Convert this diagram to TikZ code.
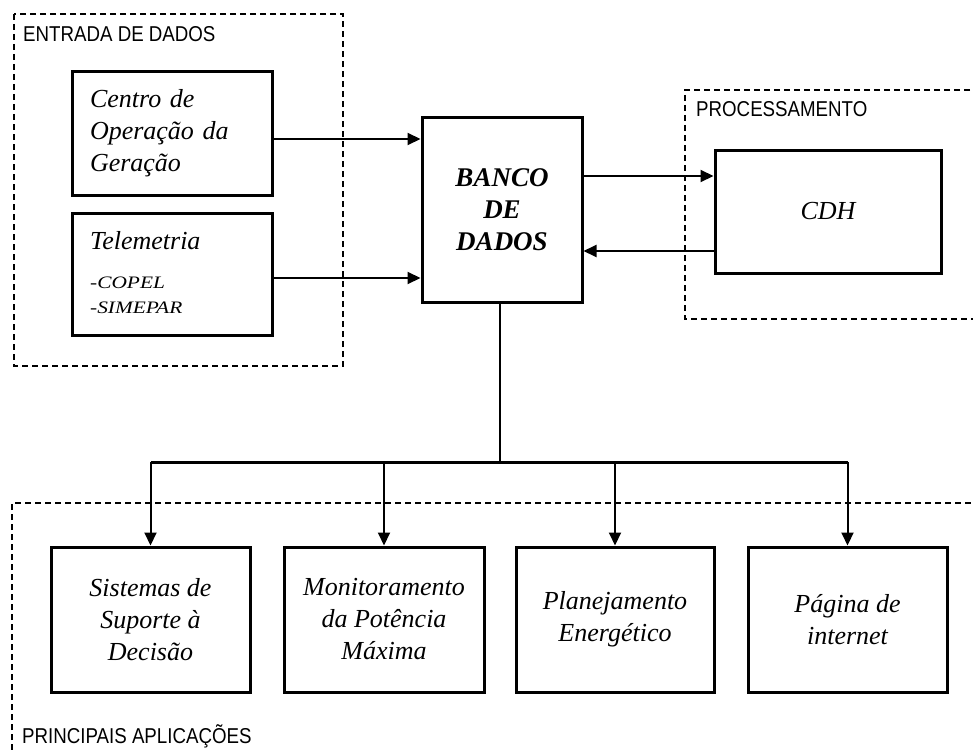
\documentclass[tikz,border=0pt]{standalone}
\usepackage{fontspec}
\setmainfont{Liberation Serif}
\newfontfamily\labfont[FakeStretch=0.87]{Liberation Sans}
\newfontfamily\wideit[FakeStretch=1.22]{Liberation Serif}
\usetikzlibrary{arrows.meta}
\begin{document}
\begin{tikzpicture}[x=1pt,y=-1pt,
  box/.style={draw,line width=3pt,inner sep=0pt,font=\fontsize{26}{32}\selectfont\itshape,align=center},
  conn/.style={line width=2pt,-{Triangle[length=13pt,width=12pt]}},
  grp/.style={line width=1.2pt,dash pattern=on 6pt off 4pt},
  grplabel/.style={anchor=base west,inner sep=0pt,font=\labfont\fontsize{21.5}{21.5}\selectfont},
  small/.style={anchor=base west,inner sep=0pt,font=\wideit\fontsize{17.5}{25}\selectfont\itshape}]
\clip (0,0) rectangle (973,749);
\fill[white] (0,0) rectangle (973,749);

% groups
\draw[grp] (14,14) rectangle (343,366);
\draw[grp] (990,90) -- (685,90) -- (685,319) -- (990,319);
\draw[grp] (12,760) -- (12,503) -- (990,503);
\node[grplabel] (lin) at (23,41.5) {ENTRADA DE DADOS};
\node[grplabel] (lproc) at (696,116.5) {PROCESSAMENTO};
\node[grplabel] (lapp) at (22,743) {PRINCIPAIS APLICAÇÕES};

% input boxes
\node[box,minimum width=200pt,minimum height=123pt,text width=164pt,align=left] (centro) at (172,133.5) {Centro de\\Operação da\\Geração};
\node[box,minimum width=200pt,minimum height=122pt] (tele) at (172,274) {};
\node[anchor=base west,inner sep=0pt,font=\fontsize{26}{32}\selectfont\itshape] (teletxt) at (90,249) {Telemetria};
\node[small] (copel) at (90,288) {-COPEL};
\node[small] (simepar) at (90,313) {-SIMEPAR};

% database and processing
\node[box,minimum width=160pt,minimum height=185pt,font=\fontsize{27}{32}\selectfont\bfseries\itshape] (banco) at (502,209.5) {BANCO\\DE\\DADOS};
\node[box,minimum width=226pt,minimum height=123pt] (cdh) at (828,211.5) {CDH};

% applications
\node[box,minimum width=199pt,minimum height=145pt] (app1) at (150.5,619.5) {Sistemas de\\Suporte à\\Decisão};
\node[box,minimum width=200pt,minimum height=145pt] (app2) at (384,619.5) {Monitoramento\\da Potência\\Máxima};
\node[box,minimum width=198pt,minimum height=145pt] (app3) at (615,619.5) {Planejamento\\Energético};
\node[box,minimum width=199pt,minimum height=145pt] (app4) at (847.5,619.5) {Página de\\internet};

% connectors
\draw[conn] ([yshift=-5.5pt]centro.east) -- ([yshift=-5.5pt]centro.east -| banco.west);
\draw[conn] ([yshift=-4pt]tele.east) -- ([yshift=-4pt]tele.east -| banco.west);
\draw[conn] ([yshift=33.5pt]banco.east) -- ([yshift=33.5pt]banco.east -| cdh.west);
\draw[conn] ([yshift=-39.5pt]cdh.west) -- ([yshift=-39.5pt]cdh.west -| banco.east);

\coordinate (bus) at (500,462);
\draw[line width=2.6pt] (bus |- banco.south) -- (bus);
\draw[line width=3pt] (app1.north |- bus) -- (app4.north |- bus);
\draw[conn] (app1.north |- bus) -- (app1.north);
\draw[conn] (app2.north |- bus) -- (app2.north);
\draw[conn] (app3.north |- bus) -- (app3.north);
\draw[conn] (app4.north |- bus) -- (app4.north);
\end{tikzpicture}
\end{document}
